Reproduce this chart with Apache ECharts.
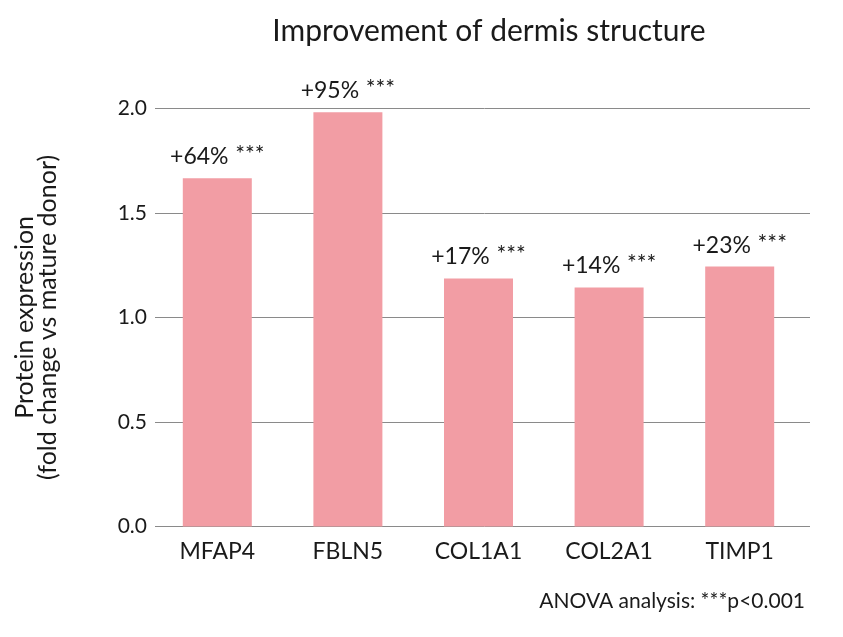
<!DOCTYPE html>
<html><head><meta charset="utf-8">
<script src="https://cdn.jsdelivr.net/npm/echarts@6/dist/echarts.min.js"></script>
<style>html,body{margin:0;padding:0;background:#fff}#c{width:843px;height:637px}</style>
</head><body><div id="c"></div>
<script>
var categories = ['MFAP4', 'FBLN5', 'COL1A1', 'COL2A1', 'TIMP1'];
var values = [1.665, 1.981, 1.186, 1.143, 1.243];
var pctLabels = ['+64%', '+95%', '+17%', '+14%', '+23%'];
var sigLabels = ['***', '***', '***', '***', '***'];
var yTicks = [0, 0.5, 1.0, 1.5, 2.0];

var FONT = 'Lato, "Noto Sans", sans-serif';
var TXT = '#1a1a1a';
var chart = echarts.init(document.getElementById('c'));
chart.setOption({
  animation: false,
  backgroundColor: '#fff',
  title: {
    text: 'Improvement of dermis structure',
    left: 484, top: 11, textAlign: 'center',
    textStyle: {fontFamily: FONT, fontSize: 30, fontWeight: 'normal', color: TXT}
  },
  graphic: [{
    type: 'text', right: 38, top: 591,
    style: {text: 'ANOVA analysis: ***p<0.001', fontFamily: FONT, fontSize: 21, fill: TXT}
  }],
  grid: [
    {left: 159, right: 33, top: 108.3, height: 418.2},
    {left: 152, right: 38, top: 108.3, height: 418.2}
  ],
  xAxis: [
    {type: 'category', gridIndex: 0, data: categories, show: false},
    {type: 'category', gridIndex: 1, data: categories,
     axisLine: {show: false}, axisTick: {show: false},
     axisLabel: {fontFamily: FONT, fontSize: 23, color: TXT, margin: 14}}
  ],
  yAxis: [
    {type: 'value', gridIndex: 0, min: 0, max: 2.0, interval: 0.5,
     name: 'Protein expression\n(fold change vs mature donor)',
     nameLocation: 'middle', nameGap: 100, nameRotate: 90,
     nameTextStyle: {fontFamily: FONT, fontSize: 25, color: TXT, lineHeight: 23},
     axisLine: {show: false},
     axisTick: {show: true, length: 4, lineStyle: {color: '#8a8a8a'}},
     axisLabel: {fontFamily: FONT, fontSize: 21, color: TXT, margin: 12,
       formatter: function (v) { return yTicks.indexOf(v) >= 0 ? v.toFixed(1) : ''; }},
     splitLine: {show: true, lineStyle: {color: '#8a8a8a', width: 1}}},
    {type: 'value', gridIndex: 1, min: 0, max: 2.0, interval: 0.5, show: false}
  ],
  series: [{
    type: 'bar', xAxisIndex: 1, yAxisIndex: 1,
    data: values, barWidth: 69,
    itemStyle: {color: '#F29DA4'},
    label: {
      show: true, position: 'top', distance: 8,
      formatter: function (p) {
        return '{a|' + pctLabels[p.dataIndex] + '}  {b|' + sigLabels[p.dataIndex] + '}';
      },
      rich: {
        a: {fontFamily: FONT, fontSize: 23, color: TXT},
        b: {fontFamily: FONT, fontSize: 23, color: TXT, padding: [0, 0, 4, 0]}
      }
    }
  }]
});
</script></body></html>
